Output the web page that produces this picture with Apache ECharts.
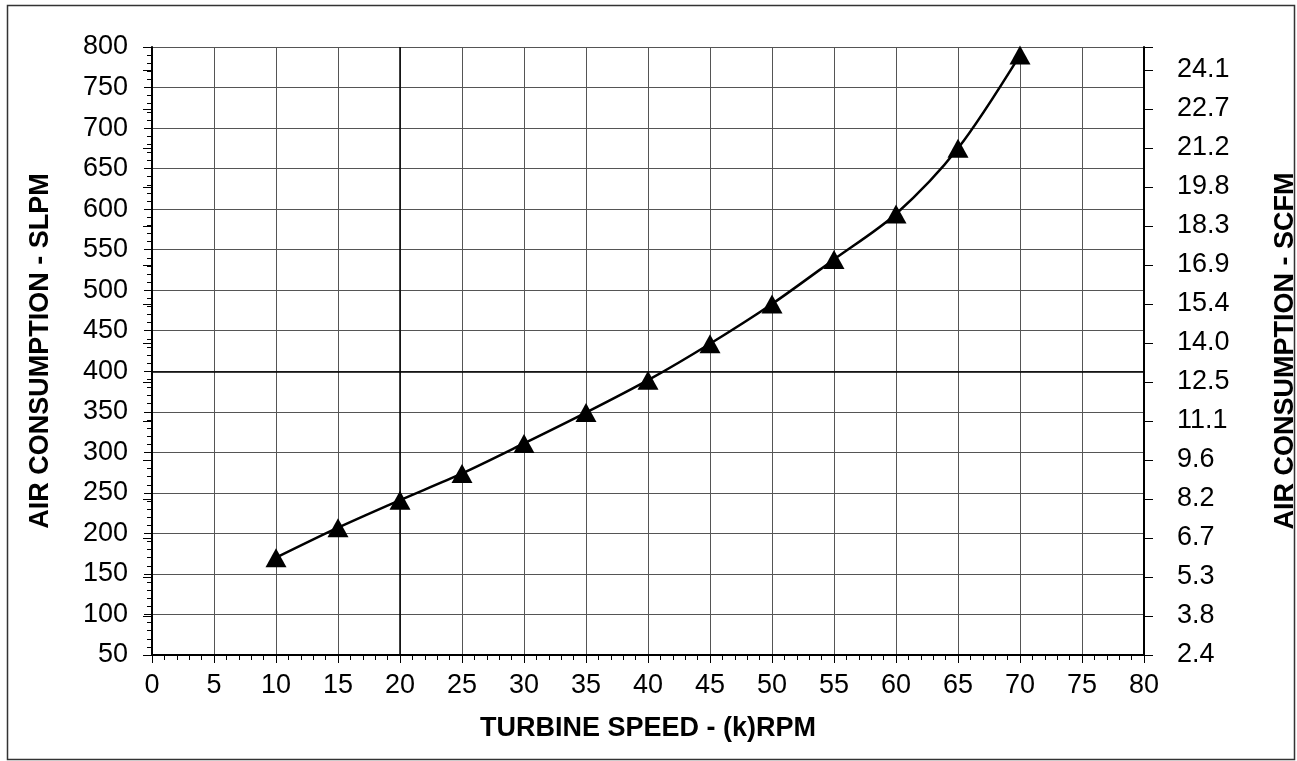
<!DOCTYPE html>
<html><head><meta charset="utf-8">
<script src="https://cdn.jsdelivr.net/npm/echarts@6/dist/echarts.min.js"></script>
<style>html,body{margin:0;padding:0;background:#fff}#c{width:1297px;height:761px}</style>
</head><body><div id="c"></div>
<script>
// Data
const speedK = [10, 15, 20, 25, 30, 35, 40, 45, 50, 55, 60, 65, 70];
const airSLPM = [170, 207, 241, 274, 311, 349, 389, 434, 483, 538, 594, 675, 790];
const scfmLabels = ['2.4','3.8','5.3','6.7','8.2','9.6','11.1','12.5','14.0','15.4','16.9','18.3','19.8','21.2','22.7','24.1'];
const scfmSteps = 15.59; // right scale extent, in label steps

const FONT = "'Liberation Sans', Arial, sans-serif";
const chart = echarts.init(document.getElementById('c'), null, {renderer: 'canvas'});

function scfmFmt(v) {
  const r = Math.round(v);
  return Math.abs(v - r) < 1e-6 && r < scfmLabels.length ? scfmLabels[r] : '';
}

chart.setOption({
  animation: false,
  backgroundColor: '#fff',
  graphic: [{
    type: 'rect', left: 5, top: 3, shape: {width: 1287, height: 754},
    style: {fill: 'none', stroke: '#333', lineWidth: 1.5}, silent: true, z: 100
  }],
  grid: {left: 152, right: 153, top: 47, bottom: 106, containLabel: false, outerBoundsMode: 'none'},
  xAxis: {
    type: 'value', min: 0, max: 80, interval: 5,
    name: 'TURBINE SPEED - (k)RPM', nameLocation: 'middle', nameGap: 60,
    nameTextStyle: {fontFamily: FONT, fontSize: 27, fontWeight: 'bold', color: '#000'},
    axisLine: {show: true, onZero: false, lineStyle: {color: '#000', width: 2}},
    axisTick: {show: true, length: 8, lineStyle: {color: '#000', width: 1}},
    minorTick: {show: true, splitNumber: 5, length: 5, lineStyle: {color: '#000', width: 1}},
    splitLine: {show: true, lineStyle: {color: '#555', width: 1}},
    axisLabel: {fontFamily: FONT, fontSize: 27, color: '#000', margin: 17}
  },
  yAxis: [{
    type: 'value', min: 50, max: 800, interval: 50, position: 'left',
    name: 'AIR CONSUMPTION - SLPM', nameLocation: 'middle', nameGap: 98, nameRotate: 90,
    nameTextStyle: {fontFamily: FONT, fontSize: 27, fontWeight: 'bold', color: '#000'},
    axisLine: {show: true, onZero: false, lineStyle: {color: '#000', width: 2}},
    axisTick: {show: true, length: 8, lineStyle: {color: '#000', width: 1}},
    minorTick: {show: true, splitNumber: 5, length: 5, lineStyle: {color: '#000', width: 1}},
    splitLine: {show: true, lineStyle: {color: '#555', width: 1}},
    axisLabel: {fontFamily: FONT, fontSize: 27, color: '#000', margin: 24}
  }, {
    type: 'value', min: 0, max: scfmSteps, interval: 1, position: 'right',
    name: 'AIR CONSUMPTION - SCFM', nameLocation: 'middle', nameGap: 128, nameRotate: 90,
    nameTextStyle: {fontFamily: FONT, fontSize: 27, fontWeight: 'bold', color: '#000'},
    axisLine: {show: true, onZero: false, lineStyle: {color: '#000', width: 2}},
    axisTick: {show: true, length: 9, lineStyle: {color: '#000', width: 1}},
    splitLine: {show: false},
    axisLabel: {fontFamily: FONT, fontSize: 27, color: '#000', margin: 33, formatter: scfmFmt}
  }, {
    type: 'value', min: 0, max: scfmSteps, interval: 1, position: 'right',
    axisLine: {show: false},
    axisTick: {show: true, inside: true, length: 9, lineStyle: {color: '#000', width: 1}},
    splitLine: {show: false},
    axisLabel: {show: false}
  }],
  series: [{
    type: 'line', yAxisIndex: 0,
    data: speedK.map((x, i) => [x, airSLPM[i]]),
    smooth: 0.3,
    symbol: 'triangle', symbolSize: [21, 19],
    itemStyle: {color: '#000'},
    lineStyle: {color: '#000', width: 2.5},
    z: 10,
    markLine: {
      silent: true, symbol: 'none', label: {show: false},
      lineStyle: {color: '#000', width: 1.5, type: 'solid'},
      data: [{xAxis: 20}, {yAxis: 400}]
    }
  }]
});
</script></body></html>
